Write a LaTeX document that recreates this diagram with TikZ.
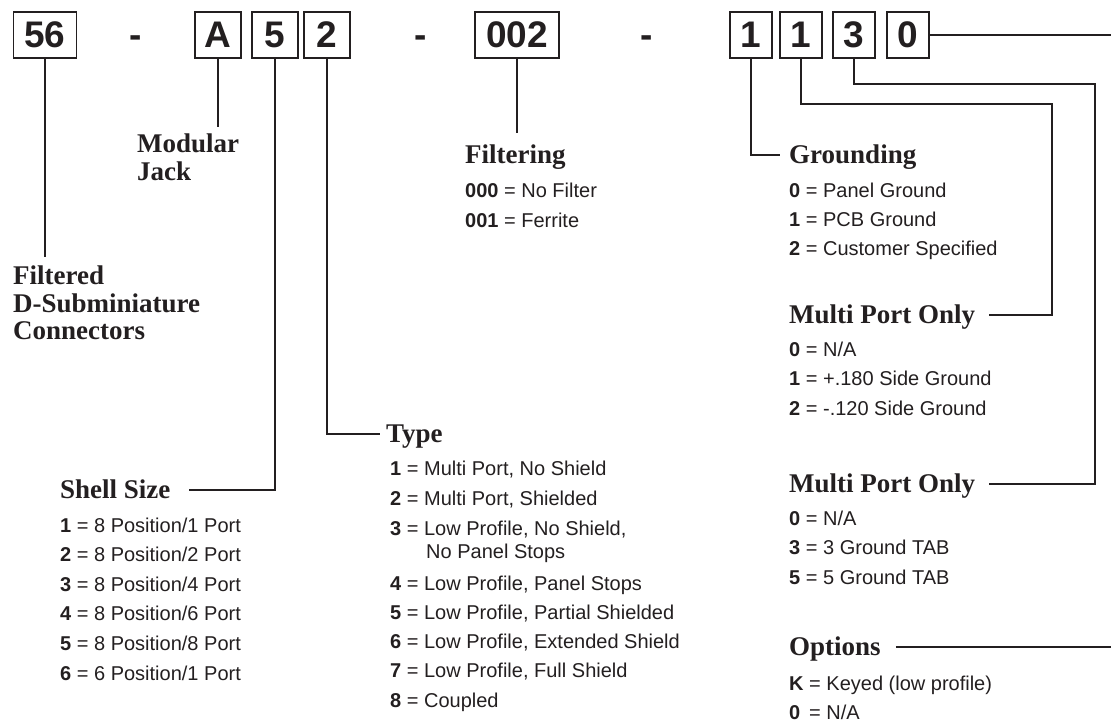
\documentclass[tikz,border=0pt]{standalone}
\usepackage{fontspec}
\setmainfont{Liberation Serif}
\setsansfont{Liberation Sans}
\usetikzlibrary{positioning,calc}
\definecolor{ink}{RGB}{35,31,32}

\tikzset{
  digitbox/.style={draw=ink, line width=1.8pt, minimum height=46pt, inner sep=0pt,
    font=\sffamily\bfseries\fontsize{37}{37}\selectfont, text=ink},
  dashsign/.style={inner sep=0pt, anchor=base,
    font=\sffamily\bfseries\fontsize{37}{37}\selectfont, text=ink},
  wire/.style={draw=ink, line width=2.2pt},
  heading/.style={inner sep=0pt, font=\fontsize{27}{27.5}\selectfont\bfseries, text=ink},
  item/.style={inner sep=0pt, anchor=base west, font=\sffamily\fontsize{20}{20}\selectfont, text=ink},
}

\begin{document}
\begin{tikzpicture}[x=1pt,y=-1pt]
  \useasboundingbox (0,0) rectangle (1111,725);

  % part number
  \node[digitbox, minimum width=63pt] (b56) at (45,35) {56};
  \node[dashsign] (d1) at (136,48) {-};
  \node[digitbox, minimum width=46pt] (bA) at (218,35) {A};
  \node[digitbox, minimum width=46pt] (b5) at (275,35) {5};
  \node[digitbox, minimum width=46pt] (b2) at (327,35) {2};
  \node[dashsign] (d2) at (421,48) {-};
  \node[digitbox, minimum width=84pt] (b002) at (517,35) {002};
  \node[dashsign] (d3) at (647,48) {-};
  \node[digitbox, minimum width=42pt] (b1) at (751,35) {1};
  \node[digitbox, minimum width=42pt] (b1b) at (801,35) {1};
  \node[digitbox, minimum width=42pt] (b3) at (854,35) {3};
  \node[digitbox, minimum width=42pt] (b0) at (908,35) {0};

  % headings
  \node[heading, anchor=north west, align=left] (hFilt) at (13,266) {Filtered\\D-Subminiature\\Connectors};
  \node[heading, anchor=north west, align=left] (hMod) at (137,134) {Modular\\Jack};
  \node[heading, anchor=base west] (hFiltering) at (465,163) {Filtering};
  \node[heading, anchor=base west] (hGround) at (789,163) {Grounding};
  \node[heading, anchor=base west] (hMultiA) at (789,323) {Multi Port Only};
  \node[heading, anchor=base west] (hMultiB) at (789,492) {Multi Port Only};
  \node[heading, anchor=base west] (hOpt) at (789,655) {Options};
  \node[heading, anchor=base west] (hShell) at (60,498) {Shell Size};
  \node[heading, anchor=base west] (hType) at (386,442) {Type};

  % code lists
  \foreach \t [count=\i from 0] in {{\textbf{000} = No Filter},{\textbf{001} = Ferrite}}
    \node[item] (filt\i) at (465,197+30*\i) {\t};
  \foreach \t [count=\i from 0] in {{\textbf{0} = Panel Ground},{\textbf{1} = PCB Ground},{\textbf{2} = Customer Specified}}
    \node[item] (ground\i) at (789,197+29*\i) {\t};
  \foreach \t [count=\i from 0] in {{\textbf{0} = N/A},{\textbf{1} = +.180 Side Ground},{\textbf{2} = -.120 Side Ground}}
    \node[item] (multiA\i) at (789,356.5+29.3*\i) {\t};
  \foreach \t [count=\i from 0] in {{\textbf{0} = N/A},{\textbf{3} = 3 Ground TAB},{\textbf{5} = 5 Ground TAB}}
    \node[item] (multiB\i) at (789,525+29.5*\i) {\t};
  \foreach \t [count=\i from 0] in {{\textbf{K} = Keyed (low profile)},{\textbf{0}\,\ = N/A}}
    \node[item] (opt\i) at (789,690+29*\i) {\t};
  \foreach \t [count=\i from 1] in {{8 Position/1 Port},{8 Position/2 Port},{8 Position/4 Port},
      {8 Position/6 Port},{8 Position/8 Port},{6 Position/1 Port}}
    \node[item] (shell\i) at (60,502.4+29.6*\i) {\textbf{\i} = \t};
  \foreach \t [count=\i from 1] in {{Multi Port, No Shield},{Multi Port, Shielded},{Low Profile, No Shield,}}
    \node[item] (type\i) at (390,445+30*\i) {\textbf{\i} = \t};
  \node[item] (type3b) at (426,558) {No Panel Stops};
  \foreach \t [count=\i from 4] in {{Low Profile, Panel Stops},{Low Profile, Partial Shielded},
      {Low Profile, Extended Shield},{Low Profile, Full Shield},{Coupled}}
    \node[item] (type\i) at (390,473+29.25*\i) {\textbf{\i} = \t};

  % connectors
  \coordinate (turnA) at (1052,104);
  \coordinate (turnB) at (1095,84);
  \coordinate (rimTop) at (1111,35);
  \coordinate (rimLow) at (1111,647);
  \draw[wire, shorten >=9pt] (b56.south) -- (b56.south |- hFilt.north);
  \draw[wire, shorten >=7pt] (bA.south) -- (bA.south |- hMod.north);
  \draw[wire, shorten >=11pt] (b002.south) -- (b002.south |- hFiltering.north);
  \draw[wire] (b5.south) |- ($(hShell.base east)+(18,-8)$);
  \draw[wire] (b2.south) |- ($(hType.base west)+(-6,-8)$);
  \draw[wire] (b1.south) |- ($(hGround.base west)+(-9,-8)$);
  \draw[wire] (b1b.south) |- (turnA) |- ($(hMultiA.base east)+(14,-8)$);
  \draw[wire] (b3.south) |- (turnB) |- ($(hMultiB.base east)+(14,-8)$);
  \draw[wire] (b0.east) -- (rimTop);
  \draw[wire] ($(hOpt.base east)+(15,-8)$) -- (rimLow);
\end{tikzpicture}
\end{document}
